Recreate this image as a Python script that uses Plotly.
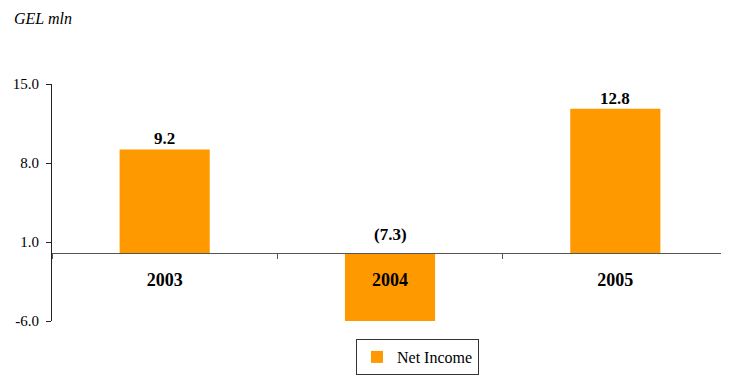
import plotly.graph_objects as go

categories = ["2003", "2004", "2005"]
net_income = [9.2, -7.3, 12.8]
y_ticks = [-6.0, 1.0, 8.0, 15.0]
series_name = "Net Income"
unit_label = "GEL mln"

y_min, y_max = -6.0, 15.0
bar_color = "#FF9900"
serif = "Liberation Serif, Times New Roman, serif"

def fmt(v):
    return f"({abs(v):.1f})" if v < 0 else f"{v:.1f}"

fig = go.Figure()
fig.add_trace(go.Bar(
    x=categories, y=net_income, name=series_name,
    marker=dict(color=bar_color, line=dict(width=0)),
    showlegend=True,
))

for i, v in enumerate(net_income):
    fig.add_annotation(
        x=i, y=max(v, 0), xref="x", yref="y",
        text=f"<b>{fmt(v)}</b>", showarrow=False,
        yanchor="bottom", yshift=(7 if v < 0 else -1),
        font=dict(family=serif, size=17, color="#000000"),
    )

# page body has an 8px margin; figure is sized to fit the window
W, H = 721, 373
ml, mt, mr = 44, 76, 1
plot_bottom = 313
plot_h = plot_bottom - mt
plot_w = W - ml - mr

fig.add_annotation(
    x=(4 - ml) / plot_w, y=1 + (mt - 0) / plot_h,
    xref="paper", yref="paper", xanchor="left", yanchor="top",
    text=f"<i>{unit_label}</i>", showarrow=False,
    font=dict(family=serif, size=16, color="#000000"),
)

fig.update_layout(
    width=W, height=H,
    margin=dict(l=ml, r=mr, t=mt, b=H - plot_bottom, pad=0, autoexpand=False),
    paper_bgcolor="white", plot_bgcolor="white",
    bargap=0.6,
    font=dict(family=serif, size=15, color="#000000"),
    legend=dict(
        x=(356 - 8 - ml) / plot_w, xanchor="left",
        y=-(357 - 8 - plot_bottom) / plot_h, yanchor="middle",
        bordercolor="#333333", borderwidth=1,
        font=dict(family=serif, size=16, color="#000000"),
        itemwidth=30, tracegroupgap=0,
    ),
    xaxis=dict(
        type="category",
        anchor="free",
        position=(0 - y_min) / (y_max - y_min),
        showline=True, linecolor="#555555", linewidth=1,
        ticks="outside", tickson="boundaries", ticklen=5, tickcolor="#555555",
        tickfont=dict(family=serif, size=18, color="#000000", weight="bold"),
        ticklabelstandoff=10,
        showgrid=False, zeroline=False,
    ),
    yaxis=dict(
        range=[y_min, y_max],
        tickvals=y_ticks, ticktext=[f"{t:.1f}" for t in y_ticks],
        showline=True, linecolor="#222222", linewidth=1,
        ticks="outside", ticklen=5, tickcolor="#222222",
        tickfont=dict(family=serif, size=15, color="#000000"),
        ticklabelstandoff=4,
        showgrid=False, zeroline=False,
    ),
)

fig.write_html("out.html")
